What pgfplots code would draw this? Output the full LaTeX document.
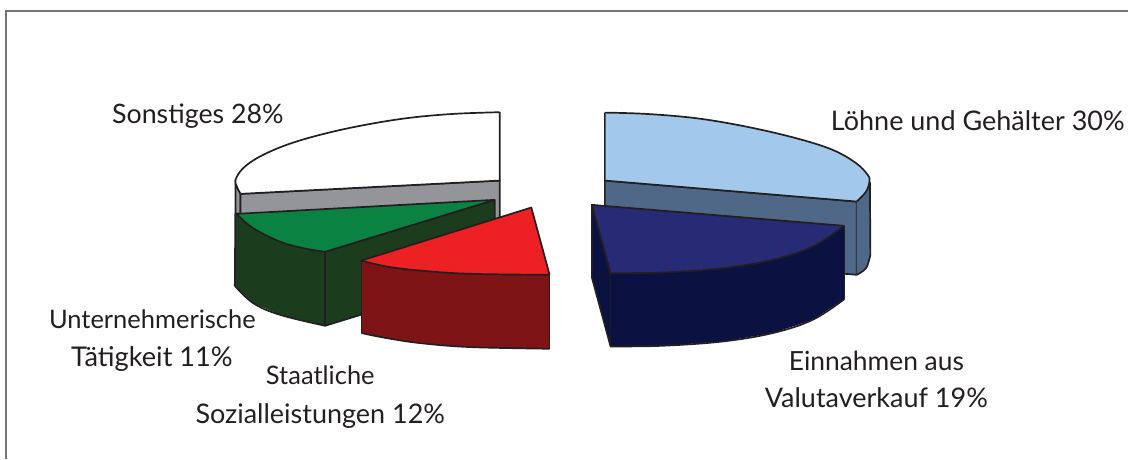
\documentclass[border=0pt]{standalone}
\usepackage{pgfplots}
\usepackage{fontspec}
\setmainfont{Lato}
\pgfplotsset{compat=1.18}
\definecolor{ln}{HTML}{231F20}
\definecolor{cgrey}{HTML}{939598}
\definecolor{cgreen}{HTML}{0A8342}
\definecolor{cdgreen}{HTML}{1B3D1E}
\definecolor{cred}{HTML}{ED2024}
\definecolor{cdred}{HTML}{7E1416}
\definecolor{clblue}{HTML}{A2C9EC}
\definecolor{csteel}{HTML}{4F6887}
\definecolor{cnavy}{HTML}{272A75}
\definecolor{cdnavy}{HTML}{0B1140}
\pgfplotsset{
  face/.style={fill=#1,draw=ln,line width=1.7pt,line join=round},
  fillonly/.style={fill=#1,draw=none},
  arc/.style={draw=ln,line width=1.7pt,smooth,tension=0.6,fill=none},
  edge/.style={draw=ln,line width=1.7pt,line join=round}
}
\newcommand{\lb}[1]{\fontsize{#1}{30}\selectfont\color{ln}}
\begin{document}
\begin{tikzpicture}
\begin{axis}[
  at={(0,0)},anchor=south west,
  width=1129pt,height=459pt,scale only axis,
  xmin=0,xmax=1129,ymin=0,ymax=459,y dir=reverse,
  hide axis,clip=false,
  every axis plot/.append style={mark=none}
]
% page extent and frame
\addplot[draw=none,forget plot] coordinates {(0,0)(1129,459)};
\addplot[draw=black!55,line width=1.6pt] coordinates {(6,459)(6,11)(1129,11)};
% Sonstiges 28%
\addplot[face=cgrey] coordinates {(235.7,180)(237.3,187.3)(240.7,194)(240.7,214)(235.7,214)} --cycle;
\addplot[face=cgrey] coordinates {(240.7,194)(500,180.7)(500,240)(240.7,240)} --cycle;
\addplot[fillonly=white] coordinates {(500,112.3)(453.3,114)(406.7,118.3)(360,126)(320,135)(286.7,145)(260,156.7)(243.3,168.3)(235.7,180)(237.3,187.3)(240.7,194)(500,180.7)} --cycle;
\addplot[arc] coordinates {(500,112.3)(453.3,114)(406.7,118.3)(360,126)(320,135)(286.7,145)(260,156.7)(243.3,168.3)(235.7,180)(237.3,187.3)(240.7,194)};
\addplot[edge] coordinates {(240.7,194)(500,180.7)(500,112.3)};
% Loehne 30%
\addplot[face=csteel] coordinates {(605.3,180.7)(857.3,201.7)(857.3,275)(605.3,254)} --cycle;
\addplot[fillonly=csteel] coordinates {(857.3,201.7)(866.7,191.7)(870,181.7)(871,255)(866.7,268.3)(857.3,275)} --cycle;
\addplot[edge] coordinates {(870.5,181.7)(871,255)};
\addplot[arc] coordinates {(871,255)(866.7,268.3)(857.3,275)};
\addplot[fillonly=clblue] coordinates {(605.3,112.7)(646.7,114)(696.7,118.3)(746.7,126.7)(796.7,138.3)(833.3,150)(856.7,163.3)(868.3,175)(870,181.7)(866.7,191.7)(857.3,201.7)(605.3,180.7)} --cycle;
\addplot[arc] coordinates {(605.3,112.7)(646.7,114)(696.7,118.3)(746.7,126.7)(796.7,138.3)(833.3,150)(856.7,163.3)(868.3,175)(870,181.7)(866.7,191.7)(857.3,201.7)};
\addplot[edge] coordinates {(857.3,201.7)(605.3,180.7)(605.3,112.7)};
% Unternehmerische 11%
\addplot[face=cdgreen] coordinates {(325.3,252)(495,200)(495,274)(325.3,326)} --cycle;
\addplot[fillonly=cdgreen] coordinates {(235.7,214)(253.3,228.3)(280,241.7)(303.3,248.3)(325.3,252)(325.3,326)(280,315)(253.3,303.3)(235,286)} --cycle;
\addplot[arc] coordinates {(235,286)(253.3,303.3)(280,315)(325.3,326)};
\addplot[edge] coordinates {(235.5,214)(235,286)};
\addplot[edge] coordinates {(325.3,252)(325.3,326)};
\addplot[fillonly=cgreen] coordinates {(236.7,214)(253.3,228.3)(280,241.7)(303.3,248.3)(325.3,252)(495,200)} --cycle;
\addplot[arc] coordinates {(236.7,214)(253.3,228.3)(280,241.7)(303.3,248.3)(325.3,252)};
\addplot[edge] coordinates {(325.3,252)(495,200)(236.7,214)};
% Staatliche 12%
\addplot[fillonly=cdred] coordinates {(361.7,260.7)(386.7,266.7)(420,270.7)(470,274)(550,275)(550,349)(470,347.3)(420,343.3)(386.7,338.3)(361.7,333.3)} --cycle;
\addplot[arc] coordinates {(361.7,333.3)(386.7,338.3)(420,343.3)(470,347.3)(550,349)};
\addplot[edge] coordinates {(361.7,260.7)(361.7,333.3)};
\addplot[edge] coordinates {(550,275)(550,349)};
\addplot[fillonly=cred] coordinates {(361.7,260.7)(386.7,266.7)(420,270.7)(470,274)(550,275)(531.7,207.7)} --cycle;
\addplot[arc] coordinates {(361.7,260.7)(386.7,266.7)(420,270.7)(470,274)(550,275)};
\addplot[edge] coordinates {(550,275)(531.7,207.7)(361.7,260.7)};
% Valutaverkauf 19%
\addplot[face=cdnavy] coordinates {(592.3,205)(611,273.3)(611,346.7)(592.3,277.7)} --cycle;
\addplot[fillonly=cdnavy] coordinates {(611,273.3)(663.3,272.7)(723.3,268.3)(773.3,260)(813.3,246.7)(845,226)(845,299.3)(813.3,320)(773.3,333.3)(723.3,341.7)(663.3,346)(611,346.7)} --cycle;
\addplot[arc] coordinates {(611,346.7)(663.3,346)(723.3,341.7)(773.3,333.3)(813.3,320)(845,299.3)};
\addplot[edge] coordinates {(845,226)(845,299.3)};
\addplot[fillonly=cnavy] coordinates {(592.3,205)(845,226)(813.3,246.7)(773.3,260)(723.3,268.3)(663.3,272.7)(611,273.3)} --cycle;
\addplot[arc] coordinates {(845,226)(813.3,246.7)(773.3,260)(723.3,268.3)(663.3,272.7)(611,273.3)};
\addplot[edge] coordinates {(611,273.3)(592.3,205)(845,226)};
% labels
\node[anchor=base,inner sep=0pt] at (axis cs:198,124) {\lb{26.8} Sonstiges 28\%};
\node[anchor=base,inner sep=0pt] at (axis cs:978.5,131) {\lb{27} Löhne und Gehälter 30\%};
\node[anchor=base,inner sep=0pt] at (axis cs:152.5,329) {\lb{25.5} Unternehmerische};
\node[anchor=base,inner sep=0pt] at (axis cs:152,367) {\lb{27.2} Tätigkeit 11\%};
\node[anchor=base,inner sep=0pt] at (axis cs:320.5,385) {\lb{25.5} Staatliche};
\node[anchor=base,inner sep=0pt] at (axis cs:320.5,424) {\lb{27} Sozialleistungen 12\%};
\node[anchor=base,inner sep=0pt] at (axis cs:877,371) {\lb{26.4} Einnahmen aus};
\node[anchor=base,inner sep=0pt] at (axis cs:877,408) {\lb{27} Valutaverkauf 19\%};
\end{axis}
\end{tikzpicture}
\end{document}
